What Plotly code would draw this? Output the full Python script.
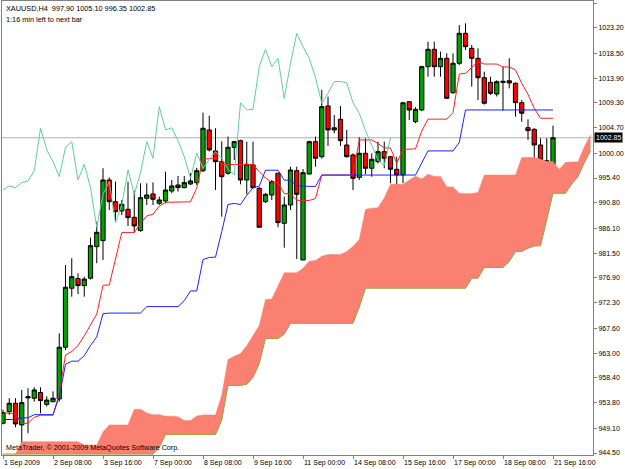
import plotly.graph_objects as go

# ---------------- data ----------------
opens = [950.0, 952.16, 953.71, 949.7, 954.7, 954.64, 955.7, 953.5, 954.0, 954.5,
         964.08, 975.0, 976.8, 975.48, 976.85, 982.7, 983.81, 995.04, 991.02, 989.3,
         989.62, 988.13, 985.66, 991.65, 992.45, 990.72, 991.15, 993.0, 994.12, 993.62,
         994.3, 994.54, 996.76, 1004.3, 1000.41, 998.43, 996.28, 1001.09, 1002.32, 995.04,
         997.82, 993.5, 991.02, 992.26, 996.28, 987.02, 990.41, 996.76, 980.23, 996.15,
         1002.13, 999.35, 1008.74, 1004.3, 1006.27, 1001.52, 999.67, 995.53, 999.98, 997.21,
         998.43, 1000.28, 999.35, 997.02, 995.97, 1009.53, 1005.83, 1008.0, 1016.01, 1019.23,
         1016.01, 1017.56, 1011.2, 1016.64, 1022.19, 1019.41, 1017.56, 1013.97, 1013.12, 1010.96,
         1013.1, 1013.4, 1012.94, 1009.35, 1004.72, 1004.42, 1001.52, 998.61, 997.90]
highs = [952.5, 954.64, 954.64, 956.17, 956.49, 956.67, 956.67, 955.0, 955.9, 966.66,
         979.3, 980.55, 977.77, 977.14, 984.36, 987.32, 997.21, 995.5, 994.73, 991.34,
         994.73, 993.06, 994.43, 994.43, 994.6, 991.95, 996.58, 995.04, 995.78, 995.78,
         996.28, 997.3, 1007.5, 1006.94, 1004.61, 1002.2, 1003.05, 1002.3, 1002.5, 1002.13,
         1002.13, 993.7, 992.6, 995.04, 996.4, 991.95, 997.5, 997.5, 997.08, 1002.3,
         1003.05, 1011.7, 1010.46, 1007.07, 1008.74, 1004.3, 999.98, 1002.94, 1002.76, 999.98,
         1002.13, 1002.13, 999.5, 999.35, 1009.5, 1009.6, 1008.5, 1016.2, 1020.64, 1020.64,
         1018.8, 1018.49, 1018.49, 1023.73, 1024.04, 1020.03, 1019.41, 1015.08, 1014.16, 1013.5,
         1016.01, 1017.56, 1013.1, 1009.85, 1006.27, 1004.6, 1002.76, 1002.76, 1005.10]
lows = [949.8, 951.55, 949.27, 946.0, 948.16, 954.0, 951.86, 953.1, 953.9, 954.0,
        963.58, 973.44, 973.94, 973.44, 976.6, 979.62, 980.23, 989.49, 987.5, 988.56,
        986.53, 985.29, 985.47, 990.41, 990.41, 990.41, 990.72, 992.58, 992.88, 993.5,
        994.12, 994.12, 996.5, 1000.3, 993.19, 988.25, 996.0, 998.74, 994.24, 992.39,
        993.5, 986.2, 990.8, 991.34, 986.29, 982.51, 989.49, 980.42, 980.2, 996.0,
        997.5, 999.0, 1001.34, 1003.68, 1001.34, 999.2, 993.19, 995.04, 996.15, 995.65,
        998.13, 997.21, 994.43, 991.95, 994.43, 1006.15, 1005.53, 1007.8, 1014.16, 1014.16,
        1014.16, 1010.0, 1011.0, 1016.32, 1019.1, 1012.31, 1009.85, 1009.0, 1010.77, 1010.5,
        1007.87, 1012.0, 1006.76, 1005.83, 1002.44, 999.06, 995.35, 995.97, 996.35]
closes = [952.0, 953.71, 949.88, 953.82, 954.9, 956.17, 954.2, 954.3, 954.64, 964.08,
          975.18, 977.14, 975.48, 976.7, 982.88, 985.36, 995.04, 991.02, 989.17, 990.54,
          988.06, 986.53, 991.77, 992.26, 991.47, 991.34, 993.19, 993.93, 993.62, 994.55,
          994.86, 996.76, 1004.61, 1000.6, 998.43, 995.65, 1001.09, 1002.13, 995.04, 997.95,
          993.62, 986.29, 992.39, 994.73, 987.14, 990.41, 996.89, 992.39, 996.39, 1002.13,
          999.06, 1008.61, 1004.3, 1004.7, 1002.32, 999.35, 995.35, 999.98, 997.21, 998.87,
          1000.28, 999.06, 997.02, 995.97, 1009.33, 1008.0, 1008.13, 1016.01, 1019.23, 1016.01,
          1017.56, 1010.16, 1016.64, 1022.19, 1019.71, 1017.56, 1013.97, 1009.24, 1011.09, 1013.23,
          1013.3, 1013.0, 1009.35, 1007.39, 1004.17, 1001.52, 998.74, 997.69, 1002.85]

tenkan = [951.9, 951.9, 951.7, 950.0, 950.0, 951.1, 951.5, 951.5, 951.5, 955.5,
          962.65, 963.3, 964.36, 966.2, 968.1, 970.2, 975.56, 975.6, 980.4, 985.3,
          985.3, 985.3, 987.0, 988.4, 988.7, 990.2, 990.9, 990.9, 990.9, 990.9,
          991.0, 993.5, 998.96, 998.96, 999.1, 997.9, 997.9, 997.9, 997.9, 997.9,
          997.9, 996.57, 995.4, 994.6, 994.6, 992.5, 992.5, 991.3, 991.2, 991.25,
          991.6, 995.95, 995.95, 995.95, 995.95, 995.95, 995.95, 1002.45, 1002.45, 1002.45,
          1001.8, 1000.97, 1000.97, 998.1, 1000.7, 1000.8, 1000.8, 1004.1, 1006.3, 1006.3,
          1006.3, 1006.3, 1007.5, 1014.63, 1014.8, 1015.9, 1016.95, 1016.5, 1016.5, 1016.5,
          1015.96, 1015.96, 1015.4, 1012.93, 1010.9, 1008.3, 1006.46, 1006.46, 1006.46]
kijun = [950.7, 950.7, 950.7, 951.0, 951.0, 951.6, 951.6, 951.6, 951.6, 954.9,
         960.9, 961.5, 961.5, 962.5, 964.4, 966.0, 970.3, 970.4, 970.4, 970.4,
         970.4, 970.4, 970.4, 971.6, 971.6, 971.6, 971.6, 971.6, 971.6, 972.7,
         974.5, 974.5, 980.3, 980.7, 980.75, 985.5, 990.5, 990.7, 990.5, 992.2,
         993.6, 993.9, 996.85, 996.85, 996.85, 995.0, 995.0, 993.96, 993.85, 993.85,
         993.85, 995.95, 995.95, 995.95, 995.95, 995.95, 995.95, 995.95, 995.95, 995.95,
         995.95, 995.95, 995.95, 995.95, 995.95, 995.95, 995.95, 998.2, 1000.42, 1000.42,
         1000.42, 1000.42, 1000.42, 1001.97, 1008.0, 1008.0, 1008.0, 1008.0, 1008.0, 1008.0,
         1008.0, 1008.0, 1008.0, 1008.0, 1008.0, 1008.0, 1008.0, 1008.0, 1008.0]
chinkou = [993.19, 993.93, 993.62, 994.55, 994.86, 996.76, 1004.61, 1000.6, 998.43, 995.65,
           1001.09, 1002.13, 995.04, 997.95, 993.62, 986.29, 992.39, 994.73, 987.14, 990.41,
           996.89, 992.39, 996.39, 1002.13, 999.06, 1008.61, 1004.3, 1004.7, 1002.32, 999.35,
           995.35, 999.98, 997.21, 998.87, 1000.28, 999.06, 997.02, 995.97, 1009.33, 1008.0,
           1008.13, 1016.01, 1019.23, 1016.01, 1017.56, 1010.16, 1016.64, 1022.19, 1019.71, 1017.56,
           1013.97, 1009.24, 1011.09, 1013.23, 1013.3, 1013.0, 1009.35, 1007.39, 1004.17, 1001.52,
           998.74, 997.69, 1002.85]
senkou_a = [944.3, 944.3, 944.3, 946.6, 946.6, 946.6, 946.6, 946.6, 946.6, 946.6,
            946.6, 946.6, 946.6, 946.0, 946.0, 946.0, 948.4, 949.7, 949.7, 949.7,
            949.7, 952.6, 952.6, 951.9, 951.6, 951.6, 951.3, 951.3, 951.2, 950.5,
            950.5, 951.35, 951.55, 951.55, 951.55, 955.2, 961.8, 962.4, 962.9, 964.35,
            966.25, 968.1, 972.9, 973.0, 975.4, 977.85, 977.85, 977.85, 978.7, 980.0,
            980.15, 980.9, 981.25, 981.25, 981.25, 981.8, 982.75, 984.0, 989.6, 989.8,
            989.9, 991.7, 994.2, 994.3, 994.2, 995.05, 995.75, 995.2, 996.1, 995.7,
            995.7, 993.75, 993.75, 992.6, 992.5, 992.55, 992.7, 995.95, 995.95, 995.95,
            995.95, 995.95, 995.95, 999.2, 999.2, 999.2, 998.9, 998.46, 998.46, 997.0,
            998.3, 998.4, 998.4, 1001.15, 1003.36]
senkou_b = [944.3, 944.3, 944.3, 944.3, 944.3, 944.3, 944.3, 944.3, 944.3, 944.3,
            944.3, 944.3, 944.3, 944.3, 944.3, 944.3, 944.3, 944.3, 944.3, 944.3,
            944.3, 944.3, 944.3, 944.3, 944.3, 945.5, 947.9, 947.9, 947.9, 947.9,
            947.9, 947.9, 947.9, 947.9, 947.9, 950.6, 957.0, 957.0, 957.0, 957.2,
            958.5, 961.0, 965.7, 965.7, 965.7, 966.5, 968.5, 968.5, 968.5, 968.5,
            968.5, 968.5, 968.5, 968.5, 968.5, 968.5, 968.5, 971.5, 975.0, 975.0,
            975.0, 975.0, 975.0, 975.0, 975.0, 975.0, 975.0, 975.0, 975.0, 975.0,
            975.0, 975.0, 975.0, 975.0, 975.0, 976.85, 976.85, 978.85, 978.85, 978.85,
            978.85, 979.93, 981.78, 981.78, 982.4, 982.8, 982.85, 987.64, 992.57, 992.57,
            992.57, 994.3, 995.66, 998.2, 1000.42]

date_ticks = ["1 Sep 2009", "2 Sep 08:00", "3 Sep 16:00", "7 Sep 00:00", "8 Sep 08:00",
              "9 Sep 16:00", "11 Sep 00:00", "14 Sep 08:00", "15 Sep 16:00", "17 Sep 00:00",
              "18 Sep 08:00", "21 Sep 16:00"]
date_tick_bars = [0, 8, 16, 24, 32, 40, 48, 56, 64, 72, 80, 88]
price_ticks = [1027.80, 1023.20, 1018.50, 1013.90, 1009.30, 1004.70, 1000.00, 995.40, 990.80,
               986.10, 981.50, 976.90, 972.30, 967.60, 963.00, 958.40, 953.80, 949.10, 944.50]

title_line1 = "XAUUSD,H4  997.90 1005.10 996.35 1002.85"
title_line2 = "1:16 min left to next bar"
copyright_text = "MetaTrader, \u00a9 2001-2009 MetaQuotes Software Corp."
last_price = 1002.85

# ---------------- figure ----------------
bars = list(range(len(opens)))
cloud_bars = list(range(len(senkou_a)))
chinkou_bars = list(range(len(chinkou)))
FONT = "Liberation Sans, Arial, sans-serif"

fig = go.Figure()

fig.add_trace(go.Scatter(x=cloud_bars, y=senkou_b, mode="lines",
                         line=dict(color="#9aa43a", width=1), showlegend=False,
                         hoverinfo="skip"))
fig.add_trace(go.Scatter(x=cloud_bars, y=senkou_a, mode="lines",
                         line=dict(color="#fa8072", width=0.5), fill="tonexty",
                         fillcolor="#fa8072", showlegend=False, hoverinfo="skip"))

fig.add_trace(go.Candlestick(
    x=bars, open=opens, high=highs, low=lows, close=closes,
    increasing=dict(fillcolor="#00a000", line=dict(color="#000000", width=1)),
    decreasing=dict(fillcolor="#ff0000", line=dict(color="#000000", width=1)),
    whiskerwidth=0, showlegend=False))

fig.add_trace(go.Scatter(x=bars, y=tenkan, mode="lines",
                         line=dict(color="#ff2020", width=1), showlegend=False))
fig.add_trace(go.Scatter(x=bars, y=kijun, mode="lines",
                         line=dict(color="#2020ff", width=1), showlegend=False))
fig.add_trace(go.Scatter(x=chinkou_bars, y=chinkou, mode="lines",
                         line=dict(color="#5fcf98", width=1), showlegend=False))

fig.add_shape(type="line", xref="paper", x0=0, x1=1, yref="y", y0=last_price, y1=last_price,
              line=dict(color="#b0b0b0", width=1), layer="below")

annotations = []
for b, t in zip(date_tick_bars, date_ticks):
    annotations.append(dict(x=b, y=0, xref="x", yref="paper", text=t, showarrow=False,
                            xanchor="left", yanchor="top", xshift=-1, yshift=-2,
                            font=dict(family=FONT, size=7, color="#000")))
annotations.append(dict(x=0, y=1, xref="paper", yref="paper", text=title_line1,
                        showarrow=False, xanchor="left", yanchor="top", xshift=2, yshift=-1,
                        font=dict(family=FONT, size=7.3, color="#000")))
annotations.append(dict(x=0, y=1, xref="paper", yref="paper", text=title_line2,
                        showarrow=False, xanchor="left", yanchor="top", xshift=2, yshift=-12,
                        font=dict(family=FONT, size=7.3, color="#000")))
annotations.append(dict(x=0, y=0, xref="paper", yref="paper", text=copyright_text,
                        showarrow=False, xanchor="left", yanchor="bottom", xshift=2, yshift=1,
                        font=dict(family=FONT, size=7.2, color="#000")))
annotations.append(dict(x=1, y=last_price, xref="paper", yref="y", text=f"{last_price:.2f}",
                        showarrow=False, xanchor="left", yanchor="middle", xshift=1,
                        bgcolor="#000000", borderpad=1,
                        font=dict(family=FONT, size=7, color="#ffffff")))

fig.update_layout(
    width=625, height=469,
    margin=dict(l=2, r=32, t=1, b=14),
    paper_bgcolor="#ffffff", plot_bgcolor="#ffffff",
    showlegend=False,
    boxgap=0.32, boxgroupgap=0,
    annotations=annotations,
    xaxis=dict(range=[-0.16, 94.4], tickvals=date_tick_bars, ticktext=[""] * len(date_tick_bars),
               ticks="outside", ticklen=3, tickcolor="#808080", showgrid=False, zeroline=False,
               showline=True, linecolor="#808080", linewidth=1, mirror=True,
               rangeslider=dict(visible=False), fixedrange=True),
    yaxis=dict(range=[944.13, 1028.17], side="right", tickvals=price_ticks,
               ticktext=[f"{v:.2f}" for v in price_ticks],
               ticks="outside", ticklen=3, tickcolor="#808080", showgrid=False, zeroline=False,
               showline=True, linecolor="#808080", linewidth=1, mirror=True,
               tickfont=dict(family=FONT, size=7, color="#000"), fixedrange=True),
)

fig.write_html("out.html", config={"displayModeBar": False})
